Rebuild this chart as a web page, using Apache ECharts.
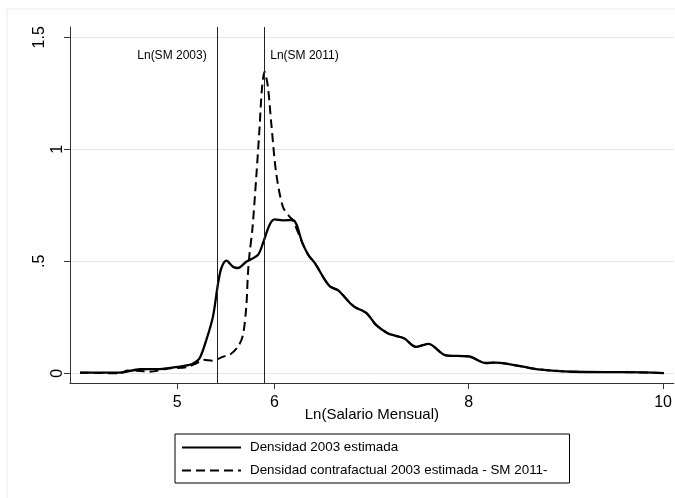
<!DOCTYPE html>
<html>
<head>
<meta charset="utf-8">
<script src="https://cdn.jsdelivr.net/npm/echarts@6/dist/echarts.min.js"></script>
<style>
  html, body { margin: 0; padding: 0; background: #ffffff; }
  #chart { width: 675px; height: 498px; }
</style>
</head>
<body>
<div id="chart"></div>
<script>
// Estimated kernel density of log monthly wage, 2003
const densX2003 = [4.00, 4.41, 4.615, 4.82, 5.026, 5.128, 5.16, 5.23, 5.30, 5.368, 5.42, 5.454, 5.506,
  5.574, 5.625, 5.711, 5.83, 5.882, 5.95, 6.002, 6.087, 6.19, 6.29, 6.35, 6.42, 6.52, 6.575, 6.66,
  6.78, 6.83, 6.95, 7.046, 7.165, 7.25, 7.335, 7.457, 7.584, 7.765, 8.005, 8.176, 8.279, 8.518, 8.69,
  9.063, 9.649, 10.009];
const densY2003 = [0.003, 0.003, 0.018, 0.019, 0.030, 0.038, 0.042, 0.067, 0.149, 0.253, 0.400, 0.469, 0.503,
  0.476, 0.470, 0.498, 0.528, 0.580, 0.662, 0.687, 0.683, 0.684, 0.580, 0.528, 0.490, 0.417, 0.387, 0.369,
  0.3125, 0.295, 0.268, 0.216, 0.179, 0.167, 0.156, 0.118, 0.131, 0.080, 0.075, 0.046, 0.048, 0.033, 0.019,
  0.007, 0.005, 0.001];

// Counterfactual 2003 density under the 2011 minimum wage (coincides with the 2003 density above ~6.2)
const contraX = [4.00, 4.41, 4.49, 4.615, 4.718, 4.923, 5.095, 5.198, 5.265, 5.368, 5.47, 5.54, 5.625,
  5.676, 5.711, 5.728, 5.745, 5.773, 5.814, 5.848, 5.871, 5.899, 5.933, 5.968, 6.019, 6.087, 6.156, 6.19];
const contraY = [0.003, 0.000, 0.012, 0.010, 0.007, 0.022, 0.027, 0.045, 0.060, 0.056, 0.074, 0.082, 0.119,
  0.170, 0.297, 0.446, 0.536, 0.640, 0.878, 1.100, 1.265, 1.346, 1.280, 1.116, 0.893, 0.744, 0.699, 0.684];

// Log minimum wages marked with reference lines
const refNames = ['Ln(SM 2003)', 'Ln(SM 2011)'];
const refValues = [5.406, 5.896];
const refLabelY = 1.416;

// Axis ticks
const xTicks = [5, 6, 8, 10];
const yTicks = [0, 0.5, 1, 1.5];
const yTickLabels = ['0', '.5', '1', '1.5'];

const seriesNames = ['Densidad 2003 estimada', 'Densidad contrafactual 2003 estimada - SM 2011-'];

function zip(xs, ys) { return xs.map((x, i) => [x, ys[i]]); }

// counterfactual joins the 2003 density past the point where they merge
const mergeAt = contraX[contraX.length - 1];
const contraData = zip(contraX, contraY).concat(
  zip(densX2003, densY2003).filter(p => p[0] > mergeAt)
);

const chart = echarts.init(document.getElementById('chart'), null, { renderer: 'canvas' });
const font = '"Liberation Sans", Arial, sans-serif';

chart.setOption({
  backgroundColor: '#ffffff',
  animation: false,
  textStyle: { fontFamily: font, color: '#000' },
  graphic: [{
    type: 'rect',
    shape: { x: 7, y: 9, width: 720, height: 520 },
    style: { fill: 'none', stroke: '#ececec', lineWidth: 1 },
    silent: true, z: -10
  }],
  grid: { left: 70, right: 0, top: 27, bottom: 115, containLabel: false },
  legend: {
    orient: 'vertical',
    left: 175, top: 434,
    padding: [7, 22, 6, 6],
    itemGap: 10,
    itemWidth: 59, itemHeight: 14,
    borderColor: '#000', borderWidth: 1,
    itemStyle: { opacity: 0 },
    textStyle: { fontFamily: font, fontSize: 13.4, color: '#000', padding: [0, 0, 0, 4] },
    data: seriesNames
  },
  xAxis: {
    type: 'value',
    min: 3.897, max: 10.11,
    name: 'Ln(Salario Mensual)',
    nameLocation: 'middle',
    nameGap: 24,
    nameMoveOverlap: false,
    nameTextStyle: { fontFamily: font, fontSize: 15, color: '#000' },
    axisLine: { onZero: false, lineStyle: { color: '#333', width: 1 } },
    axisTick: { show: true, length: 6, lineStyle: { color: '#333' }, customValues: xTicks },
    axisLabel: { fontFamily: font, fontSize: 16, color: '#000', margin: 12, customValues: xTicks,
      formatter: v => String(v) },
    splitLine: { show: false }
  },
  yAxis: {
    type: 'value',
    min: -0.0433, max: 1.546,
    axisLine: { show: true, onZero: false, lineStyle: { color: '#333', width: 1 } },
    axisTick: { show: true, length: 6, lineStyle: { color: '#333' }, customValues: yTicks },
    axisLabel: {
      fontFamily: font, fontSize: 16, color: '#000', rotate: 90, margin: 4,
      customValues: yTicks,
      formatter: v => {
        const i = yTicks.findIndex(t => Math.abs(t - v) < 1e-9);
        const s = i >= 0 ? yTickLabels[i] : String(v);
        return s.indexOf('.') >= 0 ? '{w|' + s + '}' : '{n|' + s + '}';
      },
      rich: {
        n: { fontFamily: font, fontSize: 16, color: '#000' },
        w: { fontFamily: font, fontSize: 16, color: '#000', padding: [0, 0, 18, 0] }
      }
    },
    splitLine: { show: true, lineStyle: { color: '#e6e6e6', width: 1 } }
  },
  series: [
    {
      name: seriesNames[0],
      type: 'line',
      data: zip(densX2003, densY2003),
      smooth: 0.3,
      showSymbol: false,
      symbol: 'none',
      lineStyle: { color: '#000', width: 2.3 },
      itemStyle: { color: '#000' },
      z: 3,
      markLine: {
        silent: true,
        symbol: ['none', 'none'],
        label: { show: false },
        lineStyle: { color: '#222', width: 1, type: 'solid' },
        data: refValues.map(v => ({ xAxis: v }))
      },
      markPoint: {
        silent: true,
        symbol: 'circle', symbolSize: 0,
        data: [
          { coord: [refValues[0], refLabelY],
            label: { show: true, position: 'left', distance: 10, formatter: refNames[0],
              fontFamily: font, fontSize: 12, color: '#000' } },
          { coord: [refValues[1], refLabelY],
            label: { show: true, position: 'right', distance: 6, formatter: refNames[1],
              fontFamily: font, fontSize: 12, color: '#000' } }
        ]
      }
    },
    {
      name: seriesNames[1],
      type: 'line',
      data: contraData,
      smooth: 0.3,
      showSymbol: false,
      symbol: 'none',
      lineStyle: { color: '#000', width: 2, type: [9, 5] },
      itemStyle: { color: '#000' },
      z: 2
    }
  ]
});
</script>
</body>
</html>
